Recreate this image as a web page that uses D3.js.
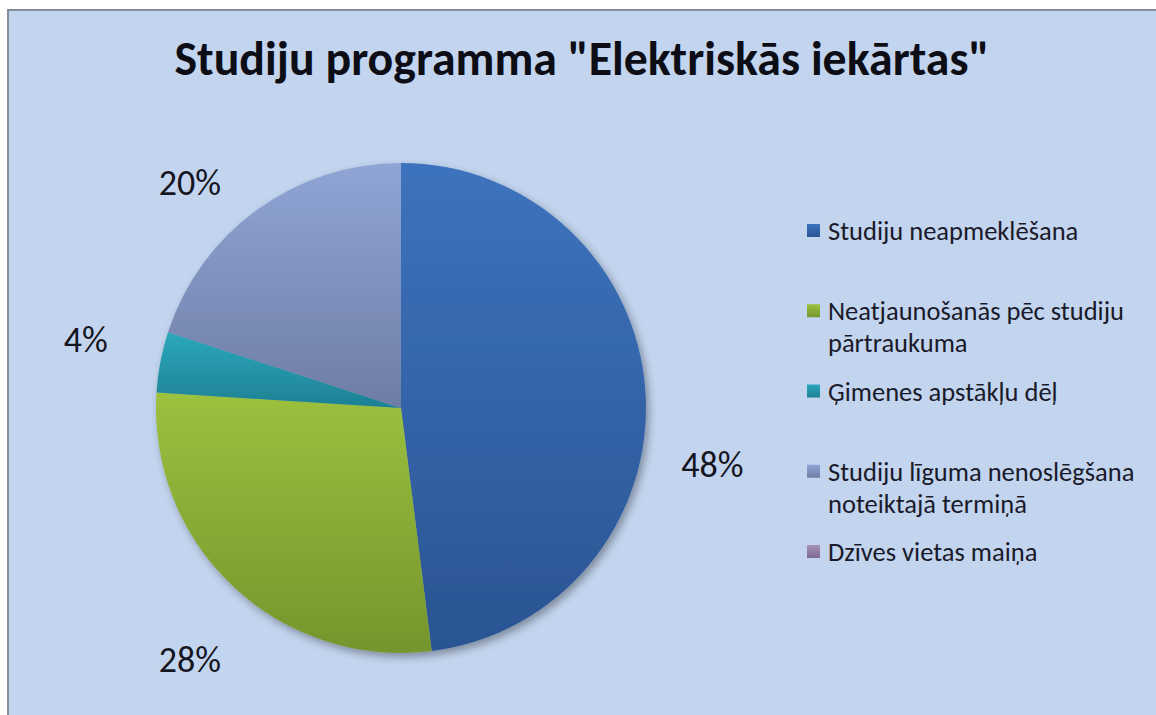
<!DOCTYPE html>
<html><head><meta charset="utf-8">
<script src="https://cdn.jsdelivr.net/npm/d3@7/dist/d3.min.js"></script>
<style>body{margin:0;background:#fff}svg{display:block}</style>
</head><body>
<svg id="c" width="1156" height="715"></svg>
<script>
const title = 'Studiju programma "Elektriskās iekārtas"';
const categories = ["Studiju neapmeklēšana", "Neatjaunošanās pēc studiju pārtraukuma", "Ģimenes apstākļu dēļ", "Studiju līguma nenoslēgšana noteiktajā termiņā", "Dzīves vietas maiņa"];
const legendLines = [["Studiju neapmeklēšana"], ["Neatjaunošanās pēc studiju", "pārtraukuma"], ["Ģimenes apstākļu dēļ"], ["Studiju līguma nenoslēgšana", "noteiktajā termiņā"], ["Dzīves vietas maiņa"]];
const values = [48, 28, 4, 20, 0];
const colorsTop = ["#3d73bd", "#9cc13e", "#2ca7bc", "#90a5d5", "#a792b8"];
const colorsBottom = ["#2a5492", "#74952d", "#1d8193", "#6e7da5", "#7d6a90"];

const svg = d3.select("#c");
const W = 1156, H = 715;
const font = "Carlito, 'Open Sans', sans-serif";

const defs = svg.append("defs");
const sh = defs.append("filter").attr("id","sh").attr("x","-20%").attr("y","-20%").attr("width","140%").attr("height","140%");
sh.append("feGaussianBlur").attr("in","SourceAlpha").attr("stdDeviation",4);
sh.append("feOffset").attr("dx",3).attr("dy",4).attr("result","b");
sh.append("feComponentTransfer").append("feFuncA").attr("type","linear").attr("slope",0.35);
const mg = sh.append("feMerge"); mg.append("feMergeNode"); mg.append("feMergeNode").attr("in","SourceGraphic");

values.forEach((v,i)=>{
  const g = defs.append("linearGradient").attr("id","g"+i).attr("x1",0).attr("y1",0).attr("x2",0).attr("y2",1);
  g.append("stop").attr("offset","0%").attr("stop-color",colorsTop[i]);
  g.append("stop").attr("offset","100%").attr("stop-color",colorsBottom[i]);
});

// background panel
svg.append("rect").attr("x",8).attr("y",10).attr("width",W).attr("height",H).attr("fill","#c2d4ee")
  .attr("stroke","#858d9a").attr("stroke-width",2);

// title
const t = svg.append("text").attr("x",582).attr("y",75).attr("text-anchor","middle")
  .attr("font-family",font).attr("font-weight","bold").attr("font-size",39).attr("fill","#0d0d16").text(title);
const tw = t.node().getComputedTextLength();
if (tw > 0) t.attr("font-size", 39 * 815 / tw);

// pie
const cx = 401, cy = 408, r = 245;
const pie = d3.pie().sort(null).value(d=>d)(values);
const arc = d3.arc().innerRadius(0).outerRadius(r);
const pg = svg.append("g").attr("transform",`translate(${cx},${cy})`).attr("filter","url(#sh)");
pg.selectAll("path").data(pie.filter(d=>d.value>0)).join("path")
  .attr("d",arc).attr("fill",d=>`url(#g${d.index})`);

// data labels
const labelArc = d3.arc().innerRadius(320).outerRadius(320);
const nudge = [[-8,77],[8,19],[-1,-8],[-23,34]];
svg.append("g").attr("transform",`translate(${cx},${cy})`).selectAll("text")
  .data(pie.filter(d=>d.value>0)).join("text")
  .attr("x",d=>labelArc.centroid(d)[0]+nudge[d.index][0])
  .attr("y",d=>labelArc.centroid(d)[1]+nudge[d.index][1])
  .attr("text-anchor","middle").attr("dominant-baseline","central")
  .attr("font-family",font).attr("font-size",36).attr("fill","#15151f")
  .text(d=>d.value+"%");

// legend
const ly = d3.scalePoint().domain(categories).range([240, 561]);
const lg = svg.append("g");
categories.forEach((c,i)=>{
  const y = ly(c);
  lg.append("rect").attr("x",807).attr("y",y-16).attr("width",13).attr("height",13)
    .attr("fill",`url(#g${i})`);
  const tx = lg.append("text").attr("x",828).attr("y",y).attr("font-family",font)
    .attr("font-size",26.5).attr("fill","#1a1a2a");
  legendLines[i].forEach((ln,j)=>{
    tx.append("tspan").attr("x",828).attr("dy", j===0?0:32).text(ln);
  });
});
</script>
</body></html>
